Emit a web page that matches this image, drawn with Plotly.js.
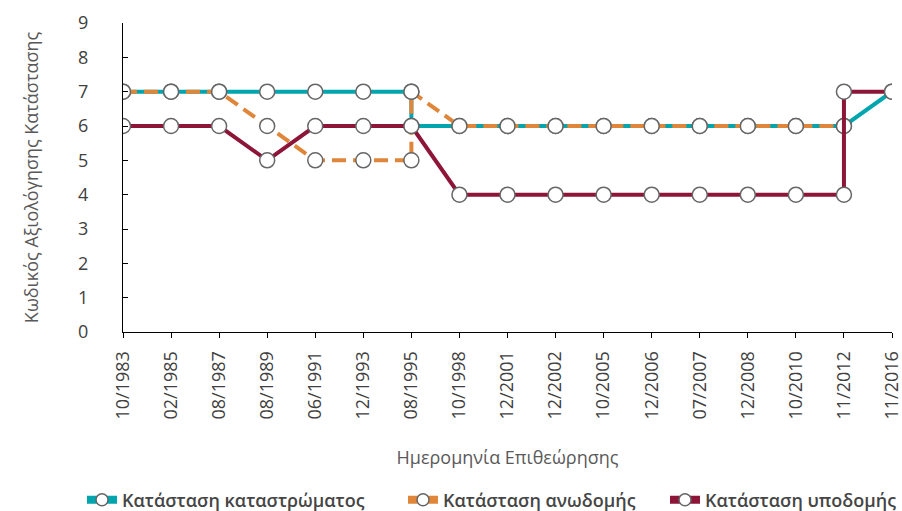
<!DOCTYPE html>
<html><head><meta charset="utf-8">
<script src="https://cdn.plot.ly/plotly-3.0.1.min.js"></script>
<style>html,body{margin:0;padding:0;background:#fff}#c{width:902px;height:511px}</style>
</head><body><div id="c"></div>
<script>
const categories = ['10/1983','02/1985','08/1987','08/1989','06/1991','12/1993','08/1995','10/1998','12/2001','12/2002','10/2005','12/2006','07/2007','12/2008','10/2010','11/2012','11/2016'];
// Deck condition
const deckX = ['10/1983','02/1985','08/1987','08/1989','06/1991','12/1993','08/1995','08/1995','10/1998','12/2001','12/2002','10/2005','12/2006','07/2007','12/2008','10/2010','11/2012','11/2016'];
const deckY = [7,7,7,7,7,7,7,6,6,6,6,6,6,6,6,6,6,7];
// Superstructure condition
const superX = ['10/1983','02/1985','08/1987','08/1989','06/1991','12/1993','08/1995','08/1995','10/1998','12/2001','12/2002','10/2005','12/2006','07/2007','12/2008','10/2010','11/2012'];
const superY = [7,7,7,6,5,5,5,7,6,6,6,6,6,6,6,6,6];
// Substructure condition
const subX = ['10/1983','02/1985','08/1987','08/1989','06/1991','12/1993','08/1995','10/1998','12/2001','12/2002','10/2005','12/2006','07/2007','12/2008','10/2010','11/2012','11/2012','11/2016'];
const subY = [6,6,6,5,6,6,6,4,4,4,4,4,4,4,4,4,7,7];
const names = ['Κατάσταση καταστρώματος','Κατάσταση ανωδομής','Κατάσταση υποδομής'];
const colors = ['#00A5AE','#E0863A','#8C1538'];
const yTicks = [0,1,2,3,4,5,6,7,8,9];

const FAM = '"Open Sans", Lato, sans-serif';
const marker = {symbol:'circle', size:15, color:'#ffffff', line:{color:'#666666', width:1.5}};
const traces = [
  {x:deckX, y:deckY, name:names[0], mode:'lines+markers', line:{color:colors[0], width:4}, marker:marker, showlegend:false},
  {x:superX, y:superY, name:names[1], mode:'lines+markers', line:{color:colors[1], width:4, dash:'14px,7px'}, marker:marker, showlegend:false},
  {x:subX, y:subY, name:names[2], mode:'lines+markers', line:{color:colors[2], width:4}, marker:marker, showlegend:false}
];
const legNames = ['legend','legend2','legend3'];
names.forEach((n,i)=>{
  traces.push({x:[null], y:[null], name:n, mode:'lines+markers', legend:legNames[i],
    line:{color:colors[i], width:8}, marker:{symbol:'circle', size:12, color:'#fff', line:{color:'#666', width:1.5}}});
});
const legFont = {family:FAM, size:18, color:'#454545', weight:600};
function leg(px){ return {orientation:'h', xref:'container', yref:'container', x:px/902, xanchor:'left',
  y:(511-500)/511, yanchor:'middle', font:legFont, bgcolor:'rgba(0,0,0,0)', borderwidth:0}; }
const layout = {
  width:902, height:511,
  margin:{l:123, r:10, t:23, b:179, autoexpand:false},
  paper_bgcolor:'#fff', plot_bgcolor:'#fff',
  font:{family:FAM, color:'#595959'},
  showlegend:true,
  legend:leg(82), legend2:leg(403), legend3:leg(665),
  xaxis:{type:'category', categoryorder:'array', categoryarray:categories, automargin:false,
         range:[0,categories.length-1], showgrid:false, zeroline:false,
         showline:true, linecolor:'#000', linewidth:1,
         ticks:'outside', ticklen:5, tickcolor:'#000', tickangle:-90, ticklabelstandoff:6,
         tickfont:{size:18, color:'#404040'},
         title:{text:'Ημερομηνία Επιθεώρησης', font:{size:18, color:'#595959'}, standoff:32}},
  yaxis:{range:[0,9], tickvals:yTicks, showgrid:false, zeroline:false, automargin:false,
         showline:true, linecolor:'#000', linewidth:1,
         ticks:'inside', ticklen:5, tickcolor:'#000', ticklabelstandoff:30,
         tickfont:{size:18, color:'#404040'},
         title:{text:'Κωδικός Αξιολόγησης Κατάστασης', font:{size:18, color:'#595959'}, standoff:34}}
};
Plotly.newPlot('c', traces, layout, {displayModeBar:false, staticPlot:true});
</script></body></html>
